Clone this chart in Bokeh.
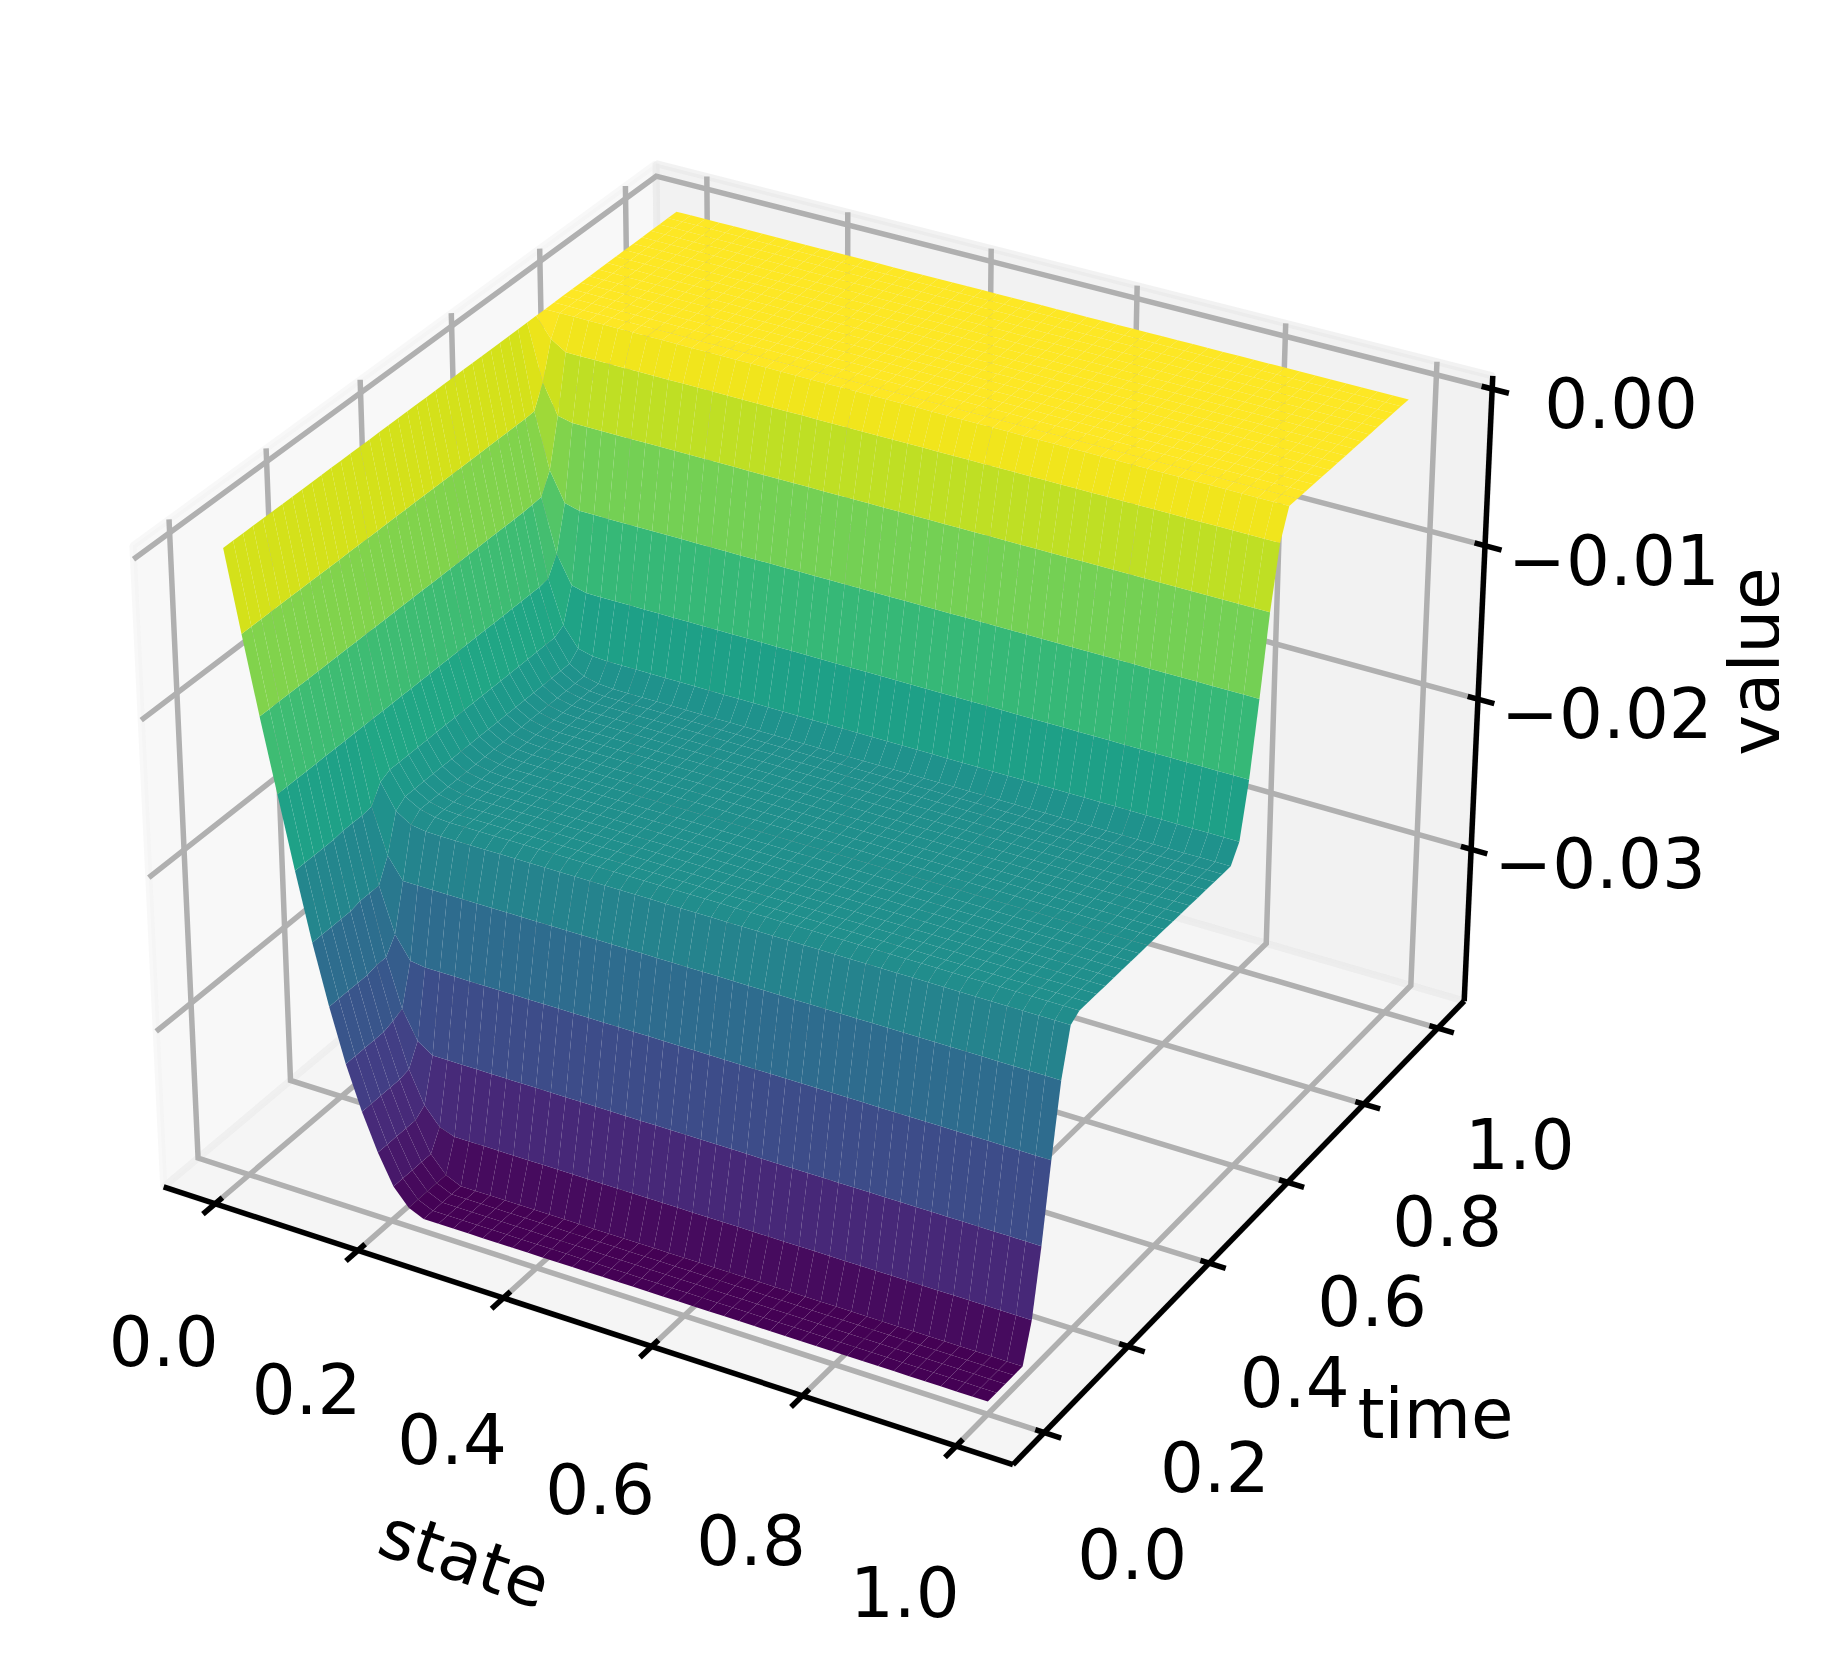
import numpy as np
from bokeh.plotting import figure, ColumnDataSource
from bokeh.embed import file_html
from bokeh.resources import INLINE
from bokeh.core.properties import value
from bokeh.palettes import Viridis256

# ---- chart data ------------------------------------------------------
state = np.arange(50) / 49
time = np.arange(50) / 49
# depth (units of 1e-5, value = -depth) per time band, for state index 1..12; beyond 12 it stays constant
depth_table = [
    [505, 994, 1457, 1916, 2350, 2736, 3081, 3364, 3603, 3797, 3906, 3950],
    [505, 994, 1456, 1908, 2334, 2722, 3060, 3349, 3557, 3671, 3705, 3705],
    [505, 994, 1456, 1908, 2334, 2722, 3032, 3214, 3280, 3280, 3280, 3280],
    [505, 994, 1456, 1908, 2334, 2623, 2767, 2782, 2782, 2782, 2782, 2782],
    [505, 994, 1456, 1900, 2189, 2326, 2326, 2326, 2326, 2326, 2326, 2326],
    [505, 994, 1456, 1790, 1950, 2010, 2025, 2028, 2028, 2028, 2028, 2028],
    [505, 994, 1456, 1760, 1905, 1960, 1982, 1989, 1989, 1989, 1989, 1989],
    [505, 990, 1444, 1725, 1850, 1875, 1881, 1881, 1881, 1881, 1881, 1881],
    [505, 985, 1328, 1508, 1533, 1533, 1533, 1533, 1533, 1533, 1533, 1533],
    [500, 856, 1043, 1068, 1068, 1068, 1068, 1068, 1068, 1068, 1068, 1068],
    [358, 548, 570, 570, 570, 570, 570, 570, 570, 570, 570, 570],
    [123, 184, 184, 184, 184, 184, 184, 184, 184, 184, 184, 184],
    [0] * 12,
]
band_rows = [5, 1, 1, 1, 1, 1, 19, 1, 1, 1, 1, 1, 16]
state_ticks = [0.0, 0.2, 0.4, 0.6, 0.8, 1.0]
time_ticks = [0.0, 0.2, 0.4, 0.6, 0.8, 1.0]
value_ticks = [0.0, -0.01, -0.02, -0.03]
state_labels = ["0.0", "0.2", "0.4", "0.6", "0.8", "1.0"]
time_labels = ["0.0", "0.2", "0.4", "0.6", "0.8", "1.0"]
value_labels = ["0.00", "\u22120.01", "\u22120.02", "\u22120.03"]

# ---- surface grid ----------------------------------------------------
rows = []
for band, n in zip(depth_table, band_rows):
    full = [0] + band + [band[-1]] * (len(state) - 13)
    rows += [full] * n
Z = -np.array(rows, float) * 1e-5

# ---- matplotlib-style 3D projection (elev 30, azim -60) ---------------
ZMIN, ZMAX = -0.0395, 0.0
B = np.array([4, 4, 3.0]) * 1.8294640721620434 * 25 / 24 / np.sqrt(41)
el, az = np.radians(30), np.radians(-60)
ps = np.array([np.cos(el) * np.cos(az), np.cos(el) * np.sin(az), np.sin(el)])
C = B / 2
eye = C + 10 * ps
w = ps
u = np.cross([0, 0, 1.0], w); u /= np.linalg.norm(u)
v = np.cross(w, u)
E = 1.1 / 48
AX, BX, AY, BY = 8172.88, 825.43, -8182.56, 782.31


def nh(d):
    return (np.asarray(d, float) + 0.05 + E) / (1.1 + 2 * E)


def nz(z):
    R = ZMAX - ZMIN
    return (np.asarray(z, float) - ZMIN + R / 48) / (R * 50 / 48)


def proj_n(nx, ny, nzv):
    q = np.stack([np.asarray(nx, float) * np.ones_like(nzv, dtype=float) * B[0],
                  np.asarray(ny, float) * np.ones_like(nzv, dtype=float) * B[1],
                  np.asarray(nzv, float) * B[2]], -1) - eye
    W = -(q @ w)
    return AX * (q @ u) / W + BX, AY * (q @ v) / W + BY, W


def line3(pts):
    a = np.array(pts, float)
    x, y, _ = proj_n(a[:, 0], a[:, 1], a[:, 2])
    return list(x), list(y)


W_, H_ = 1828, 1662
p = figure(width=W_, height=H_, x_range=(0, W_), y_range=(H_, 0),
           output_backend="svg", toolbar_location=None,
           x_axis_type=None, y_axis_type=None, min_border=0,
           outline_line_color=None, background_fill_color="white",
           border_fill_color="white")

# panes
pane = [
    ([(0, 0, 0), (0, 1, 0), (0, 1, 1), (0, 0, 1)], "#f2f2f2"),
    ([(0, 1, 0), (1, 1, 0), (1, 1, 1), (0, 1, 1)], "#e6e6e6"),
    ([(0, 0, 0), (1, 0, 0), (1, 1, 0), (0, 1, 0)], "#ececec"),
]
for pts, col in pane:
    x, y = line3(pts)
    p.patch(x, y, fill_color=col, fill_alpha=0.5, line_color=col, line_alpha=0.5, line_width=6.9)

# grid
LW = 5.5
GC = "#b0b0b0"
gx, gy = [], []
for t in state_ticks:
    n = float(nh(t))
    x, y = line3([(n, 0, 0), (n, 1, 0), (n, 1, 1)]); gx.append(x); gy.append(y)
for t in time_ticks:
    n = float(nh(t))
    x, y = line3([(1, n, 0), (0, n, 0), (0, n, 1)]); gx.append(x); gy.append(y)
for t in value_ticks:
    n = float(nz(t))
    x, y = line3([(0, 0, n), (0, 1, n), (1, 1, n)]); gx.append(x); gy.append(y)
p.multi_line(gx, gy, line_color=GC, line_width=LW, line_join="miter")

# axis lines and ticks
ax_x, ax_y = [], []
for seg in ([(0, 0, 0), (1, 0, 0)], [(1, 0, 0), (1, 1, 0)], [(1, 1, 0), (1, 1, 1)]):
    x, y = line3(seg); ax_x.append(x); ax_y.append(y)
for t in state_ticks:
    n = float(nh(t))
    x, y = line3([(n, 0.0135, 0), (n, -0.0225, 0)]); ax_x.append(x); ax_y.append(y)
for t in time_ticks:
    n = float(nh(t))
    x, y = line3([(0.99, n, 0), (1.019, n, 0)]); ax_x.append(x); ax_y.append(y)
for t in value_ticks:
    n = float(nz(t))
    x, y = line3([(0.988, 1, n), (1.019, 1, n)]); ax_x.append(x); ax_y.append(y)
p.multi_line(ax_x, ax_y, line_color="black", line_width=LW, line_cap="butt")

# surface
nx_g = nh(state)
ny_g = nh(time)
NX, NY = np.meshgrid(nx_g, ny_g)
PX, PY, PW = proj_n(NX, NY, nz(Z))
Zc = (Z[:-1, :-1] + Z[1:, :-1] + Z[:-1, 1:] + Z[1:, 1:]) / 4
Wc = (PW[:-1, :-1] + PW[1:, :-1] + PW[:-1, 1:] + PW[1:, 1:]) / 4
norm = (Zc - Zc.min()) / (Zc.max() - Zc.min())
xs, ys, cols, dep = [], [], [], []
for i in range(Z.shape[0] - 1):
    for j in range(Z.shape[1] - 1):
        xs.append([PX[i, j], PX[i, j + 1], PX[i + 1, j + 1], PX[i + 1, j]])
        ys.append([PY[i, j], PY[i, j + 1], PY[i + 1, j + 1], PY[i + 1, j]])
        cols.append(Viridis256[min(int(norm[i, j] * 256), 255)])
        dep.append(Wc[i, j])
order = np.argsort(dep)[::-1]
src = ColumnDataSource(dict(xs=[xs[i] for i in order], ys=[ys[i] for i in order],
                            c=[cols[i] for i in order]))
p.patches("xs", "ys", source=src, fill_color="c", line_color=None)

# texts
FS = "69px"
FONT = value("DejaVu Sans")


def label(x, y, txt, angle=0.0):
    p.text([x], [y], text=[txt], text_font=FONT, text_font_size=FS, angle=[angle],
           text_align="center", text_baseline="middle", text_color="black")


for t, s in zip(state_ticks, state_labels):
    x, y, _ = proj_n(float(nh(t)), 0.0, np.array(0.0))
    label(float(x) - 51.4, float(y) + 136.6 + 9 * t, s)
for t, s in zip(time_ticks, time_labels):
    x, y, _ = proj_n(1.0, float(nh(t)), np.array(0.0))
    label(float(x) + 88 - 5.9 * t, float(y) + 120.5 - 4.7 * t, s)
for t, s in zip(value_ticks, value_labels):
    x, y, _ = proj_n(1.0, 1.0, nz(t))
    label(float(x) + 129, float(y) + 13.5, s)
label(464.4, 1558, "state", np.radians(-19))
label(1435, 1413, "time")
label(1754, 661, "value", np.radians(90))

open("out.html", "w").write(file_html(p, INLINE))
